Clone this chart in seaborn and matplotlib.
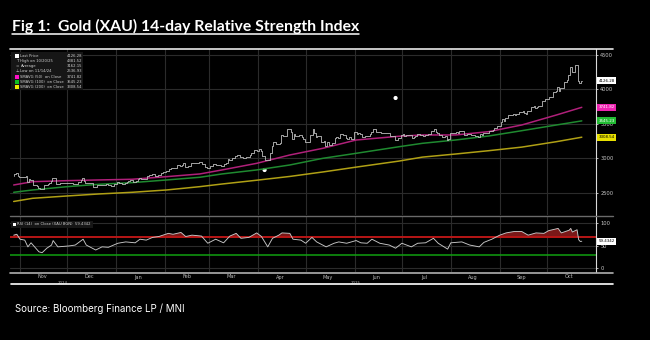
import numpy as np
import pandas as pd
import matplotlib
matplotlib.use("Agg")
import matplotlib.pyplot as plt
from matplotlib.lines import Line2D
from matplotlib.patches import Rectangle
import seaborn as sns

# ---------------- data ----------------
# daily closes of spot gold, one value per weekday of each month
close_2024_10 = [2743, 2774, 2788, 2744]
close_2024_11 = [2736, 2736, 2743, 2659, 2706, 2685, 2619, 2598, 2573, 2565, 2563,
                 2612, 2631, 2651, 2670, 2716, 2626, 2633, 2638, 2639, 2650]
close_2024_12 = [2639, 2643, 2650, 2632, 2633, 2660, 2694, 2718, 2680, 2648, 2652,
                 2646, 2587, 2594, 2622, 2613, 2617, 2617, 2634, 2621, 2606, 2625]
close_2025_01 = [2625, 2658, 2640, 2636, 2649, 2662, 2670, 2690, 2663, 2677, 2697,
                 2714, 2703, 2708, 2745, 2755, 2755, 2771, 2740, 2763, 2760, 2795, 2798]
close_2025_02 = [2815, 2843, 2866, 2856, 2861, 2908, 2898, 2904, 2928, 2883, 2898,
                 2935, 2934, 2939, 2936, 2952, 2915, 2916, 2876, 2858]
close_2025_03 = [2893, 2918, 2920, 2911, 2910, 2889, 2916, 2934, 2989, 2984, 3001,
                 3035, 3048, 3044, 3023, 3012, 3020, 3019, 3057, 3085, 3124]
close_2025_04 = [3113, 3134, 3114, 3037, 2982, 2982, 3083, 3175, 3237, 3211, 3229,
                 3343, 3327, 3327, 3424, 3381, 3288, 3349, 3319, 3343, 3317, 3288]
close_2025_05 = [3239, 3241, 3334, 3431, 3366, 3306, 3325, 3236, 3248, 3178, 3240,
                 3202, 3230, 3290, 3314, 3294, 3357, 3342, 3300, 3288, 3318, 3289]
close_2025_06 = [3381, 3353, 3373, 3352, 3310, 3325, 3323, 3354, 3386, 3432, 3385,
                 3388, 3369, 3370, 3368, 3368, 3323, 3333, 3328, 3274, 3303]
close_2025_07 = [3339, 3357, 3326, 3337, 3336, 3302, 3313, 3324, 3355, 3344, 3324,
                 3347, 3339, 3350, 3397, 3432, 3387, 3368, 3337, 3314, 3326, 3275, 3289]
close_2025_08 = [3363, 3373, 3380, 3369, 3397, 3398, 3342, 3348, 3356, 3336, 3336,
                 3332, 3315, 3348, 3339, 3372, 3366, 3393, 3397, 3416, 3448]
close_2025_09 = [3476, 3533, 3578, 3545, 3587, 3636, 3625, 3641, 3634, 3643, 3679,
                 3690, 3659, 3644, 3685, 3746, 3764, 3736, 3749, 3760, 3833, 3859]
close_2025_10 = [3866, 3857, 3886, 3961, 3985, 4041, 3976, 4018, 4110, 4143, 4209,
                 4327, 4252, 4356, 4125, 4095, 4126]
month_spans = [("2024-10-28", "2024-10-31", close_2024_10), ("2024-11-01", "2024-11-30", close_2024_11),
               ("2024-12-01", "2024-12-31", close_2024_12), ("2025-01-01", "2025-01-31", close_2025_01),
               ("2025-02-01", "2025-02-28", close_2025_02), ("2025-03-01", "2025-03-31", close_2025_03),
               ("2025-04-01", "2025-04-30", close_2025_04), ("2025-05-01", "2025-05-31", close_2025_05),
               ("2025-06-01", "2025-06-30", close_2025_06), ("2025-07-01", "2025-07-31", close_2025_07),
               ("2025-08-01", "2025-08-31", close_2025_08), ("2025-09-01", "2025-09-30", close_2025_09),
               ("2025-10-01", "2025-10-23", close_2025_10)]

# moving averages read at sample dates
ma_dates = ["2024-10-28", "2024-11-09", "2024-12-01", "2024-12-21", "2025-01-11", "2025-02-02",
            "2025-02-23", "2025-03-09", "2025-03-31", "2025-04-21", "2025-05-12", "2025-06-02",
            "2025-06-29", "2025-07-14", "2025-08-04", "2025-08-25", "2025-09-15", "2025-10-07",
            "2025-10-23"]
sma50 = [2616, 2664, 2679, 2689, 2699, 2737, 2776, 2834, 2930, 3051, 3148, 3268,
         3322, 3341, 3341, 3389, 3486, 3631, 3741.82]
sma100 = [2510, 2544, 2592, 2626, 2650, 2689, 2728, 2776, 2834, 2906, 3003, 3075,
          3170, 3220, 3268, 3326, 3403, 3486, 3545.23]
sma200 = [2377, 2423, 2457, 2486, 2510, 2544, 2592, 2630, 2685, 2740, 2805, 2875,
          2962, 3020, 3065, 3113, 3165, 3244, 3308.54]

# RSI(14)
rsi_dates = ["2024-10-28", "2024-10-30", "2024-11-01", "2024-11-04", "2024-11-06", "2024-11-08",
             "2024-11-11", "2024-11-13", "2024-11-15", "2024-11-18", "2024-11-21", "2024-11-22",
             "2024-11-25", "2024-12-02", "2024-12-06", "2024-12-11", "2024-12-13", "2024-12-19",
             "2024-12-23", "2024-12-27", "2025-01-02", "2025-01-07", "2025-01-13", "2025-01-16",
             "2025-01-20", "2025-01-24", "2025-01-28", "2025-02-03", "2025-02-06", "2025-02-11",
             "2025-02-14", "2025-02-18", "2025-02-24", "2025-02-28", "2025-03-05", "2025-03-10",
             "2025-03-14", "2025-03-18", "2025-03-21", "2025-03-26", "2025-03-31", "2025-04-03",
             "2025-04-07", "2025-04-10", "2025-04-14", "2025-04-16", "2025-04-21", "2025-04-23",
             "2025-04-28", "2025-05-01", "2025-05-05", "2025-05-08", "2025-05-14", "2025-05-19",
             "2025-05-22", "2025-05-27", "2025-06-02", "2025-06-05", "2025-06-09", "2025-06-12",
             "2025-06-17", "2025-06-23", "2025-06-27", "2025-07-01", "2025-07-07", "2025-07-11",
             "2025-07-16", "2025-07-21", "2025-07-24", "2025-07-30", "2025-08-01", "2025-08-08",
             "2025-08-13", "2025-08-19", "2025-08-22", "2025-08-27", "2025-09-01", "2025-09-05",
             "2025-09-10", "2025-09-15", "2025-09-19", "2025-09-24", "2025-09-29", "2025-10-02",
             "2025-10-08", "2025-10-10", "2025-10-15", "2025-10-16", "2025-10-17", "2025-10-20",
             "2025-10-21", "2025-10-22", "2025-10-23"]
rsi_values = [73, 75, 64, 62, 47, 56,
              44, 36, 34, 44, 51, 61,
              47, 49, 51, 64, 51, 40,
              47, 46, 55, 58, 56, 64,
              62, 68, 70, 77, 75, 79,
              70, 73, 71, 55, 64, 56,
              71, 77, 66, 68, 78, 70,
              47, 66, 73, 78, 77, 64,
              62, 55, 68, 58, 47, 55,
              58, 55, 61, 56, 55, 64,
              55, 51, 44, 55, 47, 55,
              56, 66, 55, 42, 56, 58,
              51, 47, 57, 64, 73, 78,
              81, 81, 73, 78, 77, 83,
              88, 78, 84, 88, 80, 85,
              63, 59, 59.4342]

# event markers on the price panel
event_dates = ["2025-04-05", "2025-06-27"]
event_values = [2833, 3877]

price_ticks = [2500, 3000, 3500, 4000, 4500]
rsi_ticks = [0, 50, 100]
rsi_upper, rsi_lower = 70, 30

title = "Fig 1:  Gold (XAU) 14-day Relative Strength Index"
source = "Source: Bloomberg Finance LP / MNI"
legend_labels = ["Last Price", "High on 10/20/25", "Average", "Low on 11/14/24",
                 "SMAVG (50)  on Close", "SMAVG (100)  on Close", "SMAVG (200)  on Close"]
legend_values = ["4126.28", "4381.52", "3162.15", "2536.93", "3741.82", "3545.23", "3308.54"]
rsi_legend = "RSI (14)  on Close (XAU BGN)  59.4342"

# ---------------- frames ----------------
dates, vals = [], []
for start, end, v in month_spans:
    d = pd.bdate_range(start, end)
    n = min(len(d), len(v))
    dates.extend(d[:n]); vals.extend(v[:n])
price_df = pd.DataFrame({"date": dates, "close": vals})
ma_df = pd.DataFrame({"date": pd.to_datetime(ma_dates), "sma50": sma50, "sma100": sma100, "sma200": sma200})
rsi_df = pd.DataFrame({"date": pd.to_datetime(rsi_dates), "rsi": rsi_values})
ev_df = pd.DataFrame({"date": pd.to_datetime(event_dates), "v": event_values})

# ---------------- style ----------------
sns.set_theme(style="dark", rc={"axes.facecolor": "black", "figure.facecolor": "black",
                                "savefig.facecolor": "black"})
plt.rcParams["font.family"] = ["DejaVu Sans"]

W, H = 650, 340
fig = plt.figure(figsize=(6.5, 3.4), dpi=100)


def rect(x0, y0, x1, y1):
    return [x0 / W, 1 - y1 / H, (x1 - x0) / W, (y1 - y0) / H]


ax = fig.add_axes(rect(10, 49, 596, 215))
axr = fig.add_axes(rect(10, 216, 596, 272), sharex=ax)

C50, C100, C200 = "#b0207a", "#1f8a30", "#b0a015"

sns.lineplot(data=ma_df, x="date", y="sma200", ax=ax, color=C200, lw=1.1, estimator=None)
sns.lineplot(data=ma_df, x="date", y="sma100", ax=ax, color=C100, lw=1.1, estimator=None)
sns.lineplot(data=ma_df, x="date", y="sma50", ax=ax, color=C50, lw=1.1, estimator=None)
sns.lineplot(data=price_df, x="date", y="close", ax=ax, color="#bdbdbd", lw=0.6,
             estimator=None, drawstyle="steps-mid")
sns.scatterplot(data=ev_df, x="date", y="v", ax=ax, color="white", s=9, edgecolor="none")

# RSI panel
rx = rsi_df["date"].values
ry = rsi_df["rsi"].values
axr.fill_between(rx, rsi_upper, ry, where=ry > rsi_upper, interpolate=True,
                 color="#7a1818", lw=0)
axr.axhline(rsi_upper, color="#b81616", lw=1.4)
axr.axhline(rsi_lower, color="#10a010", lw=1.1)
sns.lineplot(data=rsi_df, x="date", y="rsi", ax=axr, color="#c8c8c8", lw=0.65, estimator=None)

# limits
x0 = pd.Timestamp("2024-10-25 16:00")
x1 = pd.Timestamp("2025-11-01")
ax.set_xlim(x0, x1)
ax.set_ylim(2181, 4587)
axr.set_ylim(-8.9, 115.6)

month_starts = pd.date_range("2024-11-01", "2025-10-01", freq="MS")
mid_months = month_starts + pd.Timedelta(days=14)
month_labels = [d.strftime("%b") for d in month_starts]

for a in (ax, axr):
    a.set_xlabel(""); a.set_ylabel("")
    for s in a.spines.values():
        s.set_visible(False)
    a.spines["right"].set_visible(True)
    a.spines["right"].set_color("#d8d8d8")
    a.spines["right"].set_linewidth(0.8)
    a.grid(True, which="major", color="#2b2b2b", lw=0.8)
    a.tick_params(axis="y", which="major", left=False, right=True, labelleft=False,
                  labelright=True, length=1.5, width=0.5, color="white",
                  labelsize=3.7, labelcolor="#c8c8c8", pad=1.5)

ax.set_xticks(month_starts)
ax.tick_params(axis="x", which="both", length=0, labelbottom=False)
axr.set_xticks(mid_months, minor=True)
axr.set_xticklabels(month_labels, minor=True)
axr.tick_params(axis="x", which="major", length=0, labelbottom=False)
axr.tick_params(axis="x", which="minor", length=0, labelbottom=True, labelsize=3.6,
                labelcolor="#bbbbbb", pad=1.8)
ax.set_yticks(price_ticks)
ax.set_yticklabels([str(t) for t in price_ticks])
axr.set_yticks(rsi_ticks)
axr.set_yticklabels([str(t) for t in rsi_ticks])

# year labels
jan1 = pd.Timestamp("2025-01-01")
for lab, a_, b_ in (("2024", x0, jan1), ("2025", jan1, x1)):
    axr.text(a_ + (b_ - a_) / 2, -0.19, lab, transform=axr.get_xaxis_transform(),
             fontsize=2.8, color="#aaaaaa", ha="center", va="center")

# value boxes on the right
tr = ax.get_yaxis_transform()
box_specs = [(price_df["close"].iloc[-1], "white", "black", "4126.28"),
             (ma_df["sma50"].iloc[-1], "#ee22b0", "white", "3741.82"),
             (ma_df["sma100"].iloc[-1], "#22bb33", "white", "3545.23"),
             (ma_df["sma200"].iloc[-1], "#e8e000", "black", "3308.54")]
for yv, fc, tc, txt in box_specs:
    ax.text(1.004, yv, txt, transform=tr, fontsize=2.9, color=tc, ha="left", va="center",
            bbox=dict(boxstyle="square,pad=0.35", fc=fc, ec="none"), clip_on=False, zorder=10)
axr.text(1.004, rsi_df["rsi"].iloc[-1], "59.4342", transform=axr.get_yaxis_transform(),
         fontsize=2.9, color="black", ha="left", va="center",
         bbox=dict(boxstyle="square,pad=0.35", fc="white", ec="none"), clip_on=False, zorder=10)


# ---------------- figure decorations ----------------
def fx(x):
    return x / W


def fy(y):
    return 1 - y / H


def hline(y, xa, xb, color, lw):
    fig.add_artist(Line2D([fx(xa), fx(xb)], [fy(y), fy(y)], color=color, lw=lw))


hline(49, 10, 613, "#e8e8e8", 1.2)
hline(216, 10, 613, "#6a6a6a", 1.0)
hline(272.6, 10, 613, "#b0b0b0", 1.2)
hline(284, 11, 613, "white", 1.2)

# legend box (price)
fig.add_artist(Rectangle((fx(11), fy(90)), (83 - 11) / W, (90 - 52.5) / H,
                         transform=fig.transFigure, fc="#161616", ec="none"))
row_y = [55.7, 61.0, 66.2, 71.5, 76.7, 82.0, 87.2]
icons = ["sq:white", "T", "=", "⊥", "sq:#ff10c8", "sq:#10c020", "sq:#f0f000"]
for yy, lab, val, ic in zip(row_y, legend_labels, legend_values, icons):
    if ic.startswith("sq:"):
        fig.add_artist(Rectangle((fx(15), fy(yy + 2)), 4 / W, 4 / H,
                                 transform=fig.transFigure, fc=ic[3:], ec="none"))
    else:
        fig.text(fx(17), fy(yy), ic, fontsize=3.0, color="#cccccc", ha="center", va="center")
    fig.text(fx(20.5), fy(yy), lab, fontsize=2.7, color="#d0d0d0", ha="left", va="center")
    fig.text(fx(82), fy(yy), val, fontsize=2.7, color="#d0d0d0", ha="right", va="center")

# legend box (RSI)
fig.add_artist(Rectangle((fx(11), fy(227.5)), (93 - 11) / W, 7 / H,
                         transform=fig.transFigure, fc="#161616", ec="none"))
fig.add_artist(Rectangle((fx(12.5), fy(226)), 3.5 / W, 3.5 / H,
                         transform=fig.transFigure, fc="white", ec="none"))
fig.text(fx(17), fy(224.2), rsi_legend, fontsize=2.7, color="#d0d0d0", ha="left", va="center")

# title with underline
t = fig.text(fx(12), fy(31), title, color="white", fontsize=11.3, fontweight="bold",
             family=["Lato", "DejaVu Sans"], ha="left", va="baseline")
fig.canvas.draw()
bb = t.get_window_extent()
fig.add_artist(Line2D([bb.x0 / W, bb.x1 / W], [fy(33.6), fy(33.6)], color="white", lw=1.1))

fig.text(fx(15), fy(311.5), source, color="white", fontsize=7.0,
         family=["Inter", "DejaVu Sans"], ha="left", va="baseline")

fig.savefig("out.png", dpi=100, facecolor="black")
